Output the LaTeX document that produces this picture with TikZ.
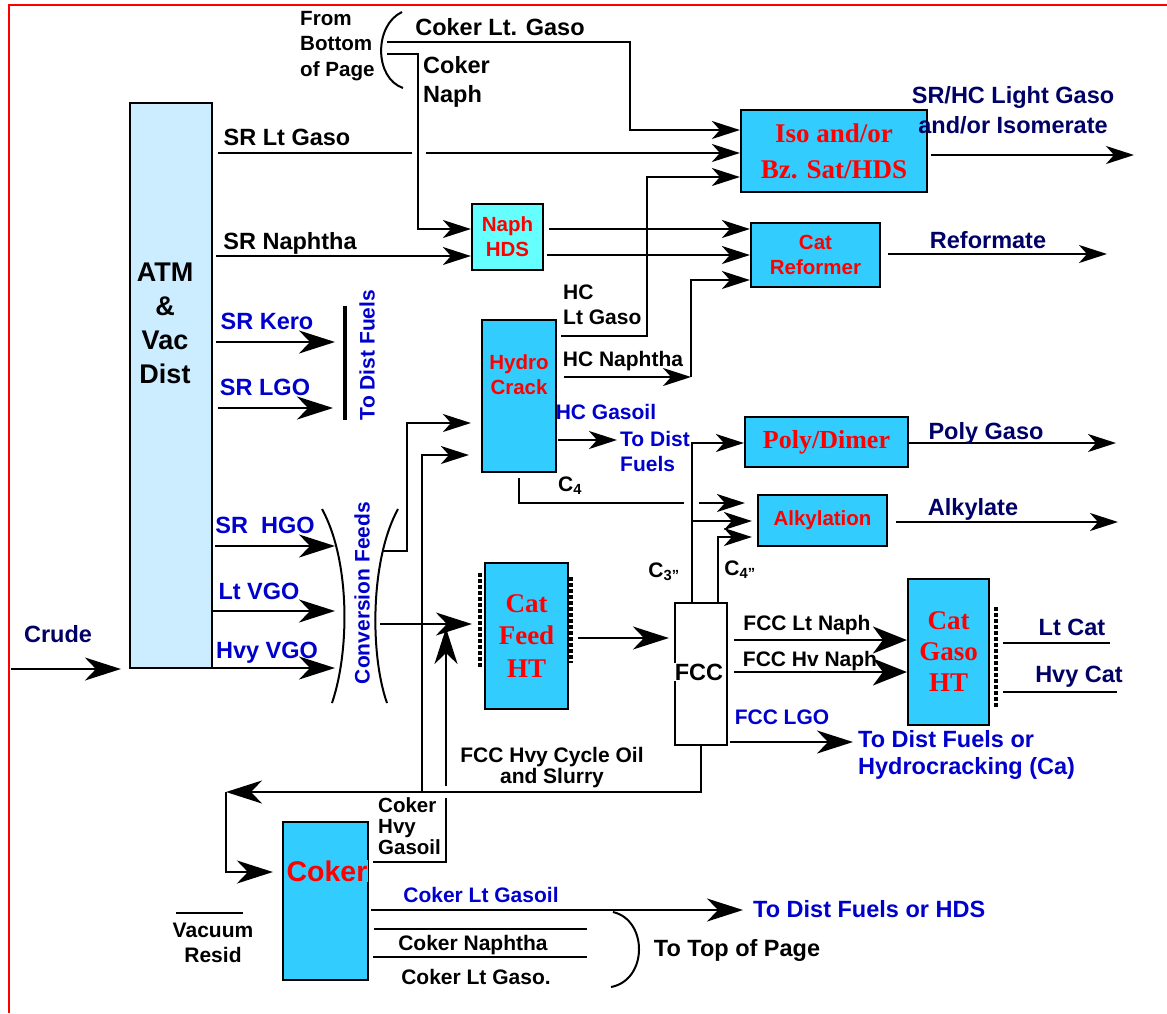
\documentclass[tikz,border=0pt]{standalone}
\usepackage{fontspec}
\setmainfont{Liberation Sans}
\newfontfamily\tms{Liberation Serif}
\usetikzlibrary{arrows.meta}
\definecolor{cy}{RGB}{51,204,255}
\definecolor{aqua}{RGB}{102,255,255}
\definecolor{atmblue}{RGB}{204,236,255}
\definecolor{lblue}{RGB}{0,0,204}
\definecolor{navy}{RGB}{0,0,102}
\definecolor{rtxt}{RGB}{255,0,0}
\newcommand{\myL}{\fontsize{23.5}{29}\selectfont\bfseries}
\newcommand{\myS}{\fontsize{21}{25}\selectfont\bfseries}
\begin{document}
\begin{tikzpicture}[x=1pt,y=-1pt,
  ln/.style={line width=2.3pt},
  arS/.style={ln,-{Stealth[length=28pt,width=18pt,inset=8pt]}},
  arL/.style={ln,-{Stealth[length=36pt,width=23pt,inset=11pt]}},
  arW/.style={ln,-{Stealth[length=34pt,width=27pt,inset=10pt]}},
  box/.style={draw, line width=2.2pt, fill=cy, inner sep=0pt, align=center},
  rt/.style={text=rtxt, font=\tms\bfseries\fontsize{27}{36}\selectfont},
  ra/.style={text=rtxt, font=\fontsize{20.5}{25}\selectfont\bfseries},
  lab/.style={inner sep=0pt, font=\myL, text height=17pt, text depth=0pt},
  labS/.style={inner sep=0pt, font=\myS, text height=15pt, text depth=0pt},
  ml/.style={inner sep=0pt},
  dotcol/.style={line width=4pt, dash pattern=on 3.5pt off 2.5pt}
]
\useasboundingbox (0,0) rectangle (1167,1013);
% frame
\coordinate (fr1) at (8,5); \coordinate (fr2) at (1167,5); \coordinate (fr3) at (9,1013);
\draw[red, line width=2pt] (fr2) -- (fr1 -| fr3) -- (fr3);

% ---------- boxes ----------
\node[box, fill=atmblue, minimum width=82pt, minimum height=565pt] (atm) at (171,385.5) {};
\node[ml, align=center, font=\fontsize{27}{34}\selectfont\bfseries] (atmtxt) at (165,323) {ATM\\\&\\Vac\\Dist};
\node[box, minimum width=186pt, minimum height=82pt, rt] (iso) at (834,151) {Iso and/or\\Bz. Sat/HDS};
\node[box, fill=aqua, minimum width=71pt, minimum height=66pt, ra] (naph) at (507.5,237) {Naph\\HDS};
\node[box, minimum width=129pt, minimum height=64pt, ra] (ref) at (815.5,255) {Cat\\Reformer};
\node[box, minimum width=74pt, minimum height=152pt] (hc) at (519,396) {};
\node[ml, ra, align=center] (hctxt) at (519,375) {Hydro\\Crack};
\node[box, minimum width=163pt, minimum height=50pt, rt, font=\tms\bfseries\fontsize{26}{30}\selectfont] (poly) at (826.5,442) {Poly/Dimer};
\node[box, minimum width=129pt, minimum height=51pt, ra] (alky) at (822.5,520.5) {Alkylation};
\node[box, minimum width=83pt, minimum height=146pt, rt, font=\tms\bfseries\fontsize{27}{32.5}\selectfont] (cfht) at (526.5,636) {Cat\\Feed\\HT};
\node[box, fill=white, minimum width=52pt, minimum height=142pt] (fcc) at (701,674) {};
\node[fill=white, inner sep=1pt, font=\myL] (fcctxt) at (699,672) {FCC};
\node[box, minimum width=81pt, minimum height=146pt, rt, font=\tms\bfseries\fontsize{27}{31}\selectfont] (cght) at (948.5,652) {Cat\\Gaso\\HT};
\node[box, minimum width=85pt, minimum height=158pt] (coker) at (325.5,901) {};
\node[fill=cy, inner sep=1pt, text=rtxt, font=\fontsize{28.5}{30}\selectfont\bfseries] (cokertxt) at (327,871) {Coker};

% heat-exchanger dotted sides
\draw[dotcol] (480,573) -- (480,668);
\draw[dotcol] (571,577) -- (571,663);
\draw[dotcol] (996,607) -- (996,707);

% ---------- crude and ATM products ----------
\coordinate (crudeS) at (11,669);
\draw[arL, shorten >=8pt] (crudeS) -- (crudeS -| atm.west);
\node[lab, text=navy] (crude) at (58,634) {Crude};

\coordinate (gapL) at (412,153);
\coordinate (gapR) at (426,153);
\draw[ln, shorten <=5pt] (atm.east |- gapL) -- (gapL);
\draw[arS] (gapR) -- (iso.west |- gapR);
\node[lab] (srlg) at (287,137) {SR Lt Gaso};

\coordinate (ySN) at (0,256);
\draw[arS, shorten <=3pt] (atm.east |- ySN) -- (naph.west |- ySN);
\node[lab] (srn) at (290,241) {SR Naphtha};

\coordinate (kT) at (335,342);
\draw[arL, shorten <=3pt] (atm.east |- kT) -- (kT);
\node[lab, text=lblue] (kero) at (267,321) {SR Kero};
\coordinate (lgoT) at (333,408);
\draw[arL, shorten <=5pt] (atm.east |- lgoT) -- (lgoT);
\node[lab, text=lblue] (srlgo) at (265,387) {SR LGO};
\coordinate (barT) at (345,306); \coordinate (barB) at (345,420);
\draw[line width=3.5pt] (barT) -- (barB);
\node[labS, text=lblue, rotate=90] (tdf1) at (367,355) {To Dist Fuels};

\coordinate (hgoT) at (335,546);
\draw[arL, shorten <=2pt] (atm.east |- hgoT) -- (hgoT);
\node[lab, text=lblue] (srhgo) at (265,525) {SR~~HGO};
\coordinate (lvgoT) at (335,611);
\draw[arL] (atm.east |- lvgoT) -- (lvgoT);
\node[lab, text=lblue] (lvgo) at (259,591) {Lt VGO};
\coordinate (hvgoT) at (335,668);
\draw[arL] (atm.east |- hvgoT) -- (hvgoT);
\node[lab, text=lblue] (hvgo) at (267,650) {Hvy VGO};

% conversion feeds
\coordinate (cpl1) at (322,509); \coordinate (cpl2) at (332,703);
\coordinate (cpr1) at (398,509); \coordinate (cpr2) at (387,703);
\draw[line width=2pt] (cpl1) .. controls (350,560) and (350,650) .. (cpl2);
\draw[line width=2pt] (cpr1) .. controls (370,560) and (370,655) .. (cpr2);
\node[labS, text=lblue, rotate=90] (convf) at (362,593) {Conversion Feeds};
\coordinate (cu1) at (382,551);
\coordinate (cu2) at (407,423);
\draw[arS, shorten >=10pt] (cu1) -| (cu2) -- (hc.west |- cu2);
\coordinate (cl1) at (380,624);
\draw[arL, shorten >=12pt] (cl1) -- (cfht.west |- cl1);

% ---------- top: from bottom of page ----------
\node[ml, align=left, anchor=west, font=\fontsize{20.6}{25.5}\selectfont\bfseries] (fbp) at (300,46) {From\\Bottom\\of Page};
\coordinate (tp1) at (402,12); \coordinate (tp2) at (403,88);
\draw[line width=2pt] (tp1) .. controls (374,25) and (374,78) .. (tp2);
\coordinate (clg0) at (387,42);
\coordinate (clg1) at (630,42);
\coordinate (clg2) at (630,130);
\draw[arS] (clg0) -- (clg1) -- (clg2) -- (iso.west |- clg2);
\node[lab] (clglab) at (500,27) {Coker Lt. Gaso};
\coordinate (cn0) at (387,54);
\coordinate (cn1) at (418,54);
\coordinate (cn2) at (418,229);
\draw[arS] (cn0) -- (cn1) -- (cn2) -- (naph.west |- cn2);
\node[ml, align=left, anchor=west, font=\fontsize{23.5}{29}\selectfont\bfseries] (cnlab) at (423,82) {Coker\\Naph};

% naph HDS outputs
\coordinate (no1) at (0,229); \coordinate (no2) at (0,255);
\draw[arS, shorten <=5pt] (naph.east |- no1) -- (ref.west |- no1);
\draw[arS, shorten <=3pt] (naph.east |- no2) -- (ref.west |- no2);

% hydrocracker products
\coordinate (hlg1) at (647,336);
\coordinate (hlg2) at (647,177);
\draw[arS, shorten <=4pt] (hc.east |- hlg1) -- (hlg1) -- (hlg2) -- (iso.west |- hlg2);
\node[ml, align=left, anchor=west, font=\myS] (hclg) at (563,305) {HC\\Lt Gaso};
\coordinate (hn1) at (691,377);
\coordinate (hn2) at (691,280);
\draw[arS, shorten <=7pt] (hc.east |- hn1) -- (hn1);
\draw[arS] (hn1) -- (hn2) -- (ref.west |- hn2);
\node[labS] (hcn) at (623,359) {HC Naphtha};
\coordinate (hgT) at (617,440);
\draw[arS, shorten <=1pt] (hc.east |- hgT) -- (hgT);
\node[labS, text=lblue] (hcg) at (606,412) {HC Gasoil};
\node[ml, align=left, anchor=west, font=\myS, text=lblue] (tdf2) at (620,451) {To Dist\\Fuels};

% C4 to alkylation
\coordinate (c4b) at (519,503);
\coordinate (c4g1) at (684,503);
\coordinate (c4g2) at (699,503);
\draw[ln, shorten <=5pt] (hc.south) -- (c4b) -- (c4g1);
\draw[arS, shorten >=12pt] (c4g2) -- (alky.west |- c4g2);
\node[labS] (c4lab) at (570,484) {C\textsubscript{4}};

% FCC light ends
\coordinate (c3x) at (692,443);
\draw[arS] (fcc.north -| c3x) -- (c3x) -- (poly.west |- c3x);
\coordinate (c3b) at (692,521);
\draw[arS, shorten >=5pt] (c3b) -- (alky.west |- c3b);
\coordinate (c4x) at (718,537);
\draw[arS, shorten >=5pt] (fcc.north -| c4x) -- (c4x) -- (alky.west |- c4x);
\node[labS] (c3lab) at (664,570) {C\textsubscript{3”}};
\node[labS] (c4plab) at (740,568) {C\textsubscript{4”}};

% product outputs
\coordinate (isoT) at (1134,155);
\draw[arS, shorten <=3pt] (iso.east |- isoT) -- (isoT);
\node[ml, align=center, font=\myL, text=navy, font=\fontsize{23.5}{30}\selectfont\bfseries] (isolab) at (1013,110) {SR/HC Light Gaso\\and/or Isomerate};
\coordinate (refT) at (1107,254);
\draw[arS, shorten <=7pt] (ref.east |- refT) -- (refT);
\node[lab, text=navy] (refl) at (988,240) {Reformate};
\coordinate (polyT) at (1116,443);
\draw[arS] (poly.east |- polyT) -- (polyT);
\node[lab, text=navy] (polyl) at (986,431) {Poly Gaso};
\coordinate (alkyT) at (1118,522);
\draw[arS, shorten <=8pt] (alky.east |- alkyT) -- (alkyT);
\node[lab, text=navy] (alkyl) at (973,507) {Alkylate};

% cat feed HT to FCC
\coordinate (yCF) at (0,638);
\draw[arL, shorten <=9pt, shorten >=5pt] (cfht.east |- yCF) -- (fcc.west |- yCF);

% FCC naphthas
\coordinate (ln1) at (0,640); \coordinate (ln2) at (0,672);
\draw[arW, shorten <=6pt] (fcc.east |- ln1) -- (cght.west |- ln1);
\draw[arW, shorten <=6pt] (fcc.east |- ln2) -- (cght.west |- ln2);
\node[labS] (fln) at (807,623) {FCC Lt Naph};
\node[labS] (fhn) at (810,659) {FCC Hv Naph};
\coordinate (ltc) at (1110,643);
\draw[ln, shorten <=13pt] (cght.east |- ltc) -- (ltc);
\node[lab, text=navy] (ltcl) at (1072,627) {Lt Cat};
\coordinate (hvc) at (1117,692);
\draw[ln, shorten <=13pt] (cght.east |- hvc) -- (hvc);
\node[lab, text=navy] (hvcl) at (1079,674) {Hvy Cat};

% FCC LGO
\coordinate (lgoF) at (853,742);
\draw[arL, shorten <=2pt] (fcc.east |- lgoF) -- (lgoF);
\node[labS, text=lblue] (fcclgo) at (782,717) {FCC LGO};
\node[ml, align=left, anchor=west, text=lblue, font=\fontsize{23.5}{27}\selectfont\bfseries] (tdfh) at (858,755) {To Dist Fuels or\\Hydrocracking (Ca)};

% FCC heavy cycle oil
\coordinate (hcoL) at (226,792);
\draw[arL] (fcc.south) |- (hcoL);
\coordinate (ckIn) at (0,872);
\draw[arL, shorten >=9pt] (hcoL) |- (coker.west |- ckIn);
\coordinate (hcoJ) at (422,792);
\coordinate (yHCin) at (0,455);
\draw[arS, shorten >=12pt] (hcoJ) |- (hc.west |- yHCin);
\node[ml, align=center, font=\fontsize{21}{21}\selectfont\bfseries] (hcol) at (552,768) {FCC Hvy Cycle Oil\\and Slurry};

% coker products
\coordinate (chgC) at (446,862);
\coordinate (chgG1) at (446,798);
\coordinate (chgG2) at (446,786);
\coordinate (chgT) at (446,628);
\draw[ln, shorten <=4pt] (coker.east |- chgC) -- (chgC) -- (chgG1);
\draw[arL] (chgG2) -- (chgT);
\node[ml, align=left, anchor=west, font=\fontsize{20.5}{21}\selectfont\bfseries] (chgl) at (378,826) {Coker\\Hvy\\Gasoil};

\coordinate (clgoT) at (743,910);
\draw[arL, shorten <=2pt] (coker.east |- clgoT) -- (clgoT);
\node[labS, text=lblue] (clgol) at (481,895) {Coker Lt Gasoil};
\node[lab, text=lblue, anchor=west] (tdfhds) at (753,909) {To Dist Fuels or HDS};
\coordinate (cnE) at (587,929);
\draw[ln, shorten <=5pt] (coker.east |- cnE) -- (cnE);
\node[labS] (cnl) at (473,943) {Coker Naphtha};
\coordinate (clgE) at (587,957);
\draw[ln, shorten <=4pt] (coker.east |- clgE) -- (clgE);
\node[labS] (clgl) at (476,977) {Coker Lt Gaso.};
\coordinate (bp1) at (613,912); \coordinate (bp2) at (611,987);
\draw[line width=2pt] (bp1) .. controls (648,920) and (648,980) .. (bp2);
\node[lab] (ttp) at (737,948) {To Top of Page};

% vacuum resid
\coordinate (vr1) at (176,913); \coordinate (vr2) at (243,913);
\draw[ln] (vr1) -- (vr2);
\node[ml, align=center, font=\fontsize{21}{25}\selectfont\bfseries] (vrl) at (213,943) {Vacuum\\Resid};
\end{tikzpicture}
\end{document}
